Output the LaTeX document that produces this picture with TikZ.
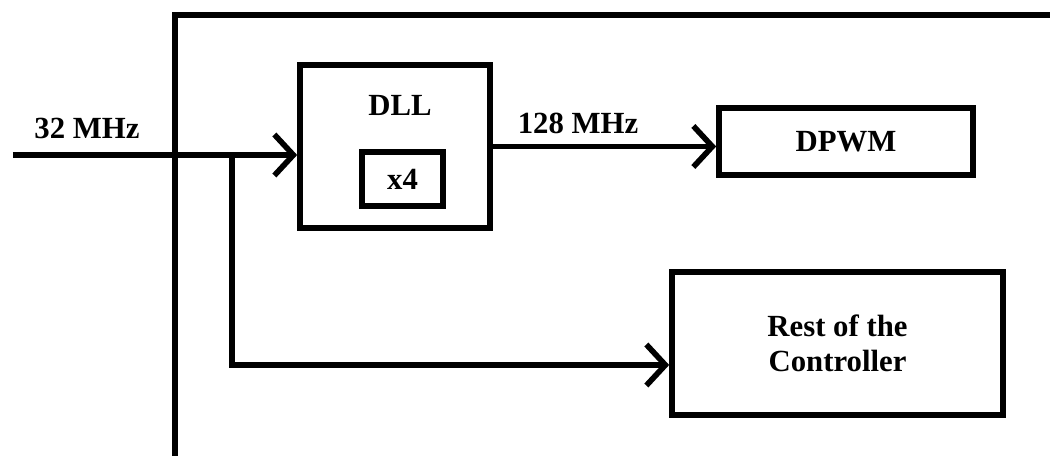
\documentclass[tikz,border=0pt]{standalone}
\usepackage{fontspec}
\setmainfont{Liberation Serif}
\usetikzlibrary{arrows.meta}

\begin{document}
\begin{tikzpicture}[
  line width=3.2pt,
  txt/.style={font=\fontsize{17.5}{20}\selectfont\bfseries},
  block/.style={draw, txt, inner sep=0pt},
  arr/.style={-{Straight Barb[length=0.38cm,width=0.82cm]}}
]
  \useasboundingbox (0,0) rectangle (21,9.12);

  % Outer frame (open to the right and bottom)
  \draw (3.5,0) -- (3.5,8.82) -- (21,8.82);

  % Blocks
  \node[block, minimum width=3.8cm, minimum height=3.26cm] (dll) at (7.9,6.19) {};
  \node[txt] (dlltext) at (8.0,7.02) {DLL};
  \node[block, minimum width=1.62cm, minimum height=1.08cm] (mult) at (8.05,5.54) {x4};
  \node[block, minimum width=5.08cm, minimum height=1.34cm] (dpwm) at (16.92,6.29) {DPWM};
  \node[block, minimum width=6.62cm, minimum height=2.86cm, align=center] (rest) at (16.75,2.25) {Rest of the\\Controller};

  % Clock input and branch
  \coordinate (in) at (0.26,6.02);
  \coordinate (split) at (4.64,6.02);
  \coordinate (corner) at (4.64,1.82);
  \node[txt] (fin) at (1.74,6.56) {32 MHz};
  \draw[arr] (in) -- (in -| dll.west);
  \draw[arr] (split) -- (corner) -- (corner -| rest.west);

  % DLL output
  \draw[arr] (dll.east) -- (dll.east -| dpwm.west);
  \node[txt] (fout) at (11.56,6.66) {128 MHz};

\end{tikzpicture}
\end{document}
